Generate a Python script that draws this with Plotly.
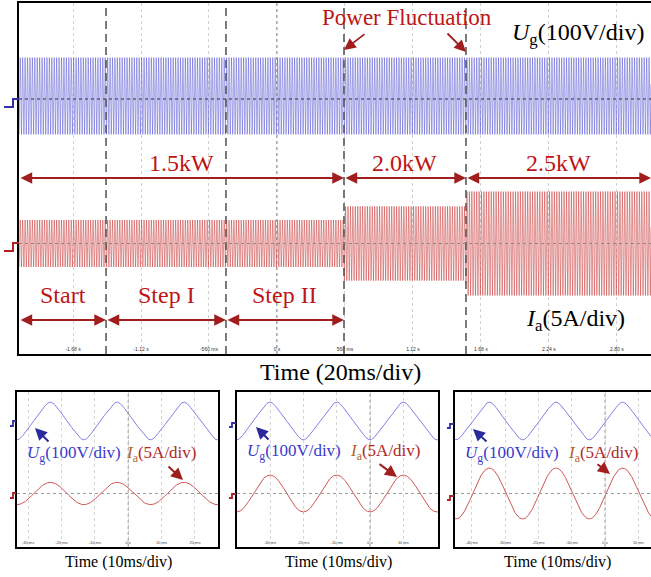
import numpy as np
import plotly.graph_objects as go

W, H = 651, 577


def px(x):
    return x / W


def py(y):
    return 1 - y / H


# ---------------- data ----------------
F_GRID = 50.0                       # Hz
UG_PEAK = 311.0                     # V
MAIN_T_RANGE = [-2.125, 3.081]      # s
EVENT_T = [-1.408, -0.420, 0.552, 1.557]      # s (dashed markers)
IA_EDGES = [-2.125, 0.552, 1.557, 3.081]      # s
IA_PEAKS = [9.5, 15.0, 21.0]                  # A
MAIN_TICKS = [-1.68, -1.12, -0.56, 0.0, 0.56, 1.12, 1.68, 2.24, 2.80]
MAIN_TICKTEXT = ['-1.68 s', '-1.12 s', '-560 ms', '0 s', '560 ms',
                 '1.12 s', '1.68 s', '2.24 s', '2.80 s']
POWER_LABELS = ['1.5kW', '2.0kW', '2.5kW']
POWER_EDGES = [-2.125, 0.552, 1.557, 3.081]
STAGE_LABELS = ['Start', 'Step I', 'Step II']
STAGE_EDGES = [-2.125, -1.408, -0.420, 0.552]

ZOOM_RANGES = [[-33.3, 26.9], [-39.9, 20.4], [-45.0, 13.8]]   # ms
ZOOM_TICKS = [[-30, -20, -10, 0, 10, 20],
              [-40, -30, -20, -10, 0, 10],
              [-40, -30, -20, -10, 0, 10]]
ZOOM_TICKTEXT = [['-30 ms', '-20 ms', '-10 ms', '0 s', '10 ms', '20 ms'],
                 ['-40 ms', '-30 ms', '-20 ms', '-10 ms', '0 s', '10 ms'],
                 ['-40 ms', '-30 ms', '-20 ms', '-10 ms', '0 s', '10 ms']]
ZOOM_UG_PEAK_T = [-3.3, 10.0, 5.3]   # ms, time of a voltage crest
ZOOM_IA_PEAKS = [9.2, 15.2, 21.0]    # A
UG_HARMONICS = [1.0, 0.065, 0.015]   # cosine weights of orders 1, 3, 5

# ---------------- styling ----------------
SERIF = 'Liberation Serif, Times New Roman, serif'
RED_TXT = '#c01414'
RED_ARR = '#a01e1e'
BLUE_TXT = '#3a3acc'
BLUE_ARR = '#2a2a9c'

fig = go.Figure()

# ---------------- main record ----------------
t = np.linspace(MAIN_T_RANGE[0], MAIN_T_RANGE[1], 5206 * 4)
w = 2 * np.pi * F_GRID
ug = UG_PEAK * np.sin(w * t)
seg = np.clip(np.searchsorted(IA_EDGES, t, side='right') - 1, 0, len(IA_PEAKS) - 1)
ia = np.array(IA_PEAKS)[seg] * np.sin(w * t)

fig.add_trace(go.Scatter(x=t, y=ug, mode='lines', xaxis='x', yaxis='y',
                         line=dict(color='rgba(80,80,210,0.5)', width=1.0),
                         hoverinfo='skip', showlegend=False))
fig.add_trace(go.Scatter(x=t, y=ia, mode='lines', xaxis='x', yaxis='y2',
                         line=dict(color='rgba(200,50,50,0.5)', width=1.0),
                         hoverinfo='skip', showlegend=False))

# ---------------- zoomed windows ----------------
orders = [1, 3, 5]
for k in range(3):
    tms = np.linspace(ZOOM_RANGES[k][0], ZOOM_RANGES[k][1], 800)
    th = 2 * np.pi * F_GRID * (tms - ZOOM_UG_PEAK_T[k]) / 1000.0
    shape = sum(h * np.cos(o * th) for h, o in zip(UG_HARMONICS, orders)) / sum(UG_HARMONICS)
    u = UG_PEAK * shape
    i = ZOOM_IA_PEAKS[k] * np.cos(th)
    xa = 'x%d' % (k + 2)
    yu = 'y%d' % (2 * k + 3)
    yi = 'y%d' % (2 * k + 4)
    fig.add_trace(go.Scatter(x=tms, y=u, mode='lines', xaxis=xa, yaxis=yu,
                             line=dict(color='#8080e6', width=1),
                             hoverinfo='skip', showlegend=False))
    fig.add_trace(go.Scatter(x=tms, y=i, mode='lines', xaxis=xa, yaxis=yi,
                             line=dict(color='#d05656', width=1),
                             hoverinfo='skip', showlegend=False))

# ---------------- axes ----------------
layout = dict(
    width=W, height=H, margin=dict(l=0, r=0, t=0, b=0),
    paper_bgcolor='white', plot_bgcolor='white', showlegend=False,
    font=dict(family=SERIF, color='black'),
)

main_xdom = [px(19), 1.0]
main_ydom = [py(354), py(3)]
UG_C = 96.0   # px of Ug trace centre
layout['xaxis'] = dict(domain=main_xdom, range=MAIN_T_RANGE, anchor='y',
                       showline=True, linecolor='black', linewidth=1.5, mirror=True,
                       ticks='', tickvals=MAIN_TICKS, ticktext=MAIN_TICKTEXT,
                       ticklabelposition='inside',
                       tickfont=dict(family='Liberation Sans', size=5, color='#333'),
                       showgrid=True, gridcolor='#d0d0d0', griddash='dot', gridwidth=1,
                       zeroline=False, fixedrange=True)
layout['yaxis'] = dict(domain=main_ydom, range=[-(354 - UG_C) * 8.1, (UG_C - 3) * 8.1],
                       anchor='x', showline=True, linecolor='black', linewidth=1.5,
                       ticks='', showticklabels=False, showgrid=False, zeroline=False)
layout['yaxis2'] = dict(overlaying='y', range=[-(354 - 243.5) * 0.404, (243.5 - 3) * 0.404],
                        anchor='x', visible=False)

zoom_xdoms = [[px(17), px(218)], [px(237), px(438)], [px(455), 1.0]]
zoom_ydom = [py(547), py(392)]
for k in range(3):
    xa = 'xaxis%d' % (k + 2)
    yu = 'yaxis%d' % (2 * k + 3)
    yi = 'yaxis%d' % (2 * k + 4)
    layout[xa] = dict(domain=zoom_xdoms[k], range=ZOOM_RANGES[k], anchor='y%d' % (2 * k + 3),
                      showline=True, linecolor='black', linewidth=2, mirror=True,
                      ticks='', tickvals=ZOOM_TICKS[k], ticktext=ZOOM_TICKTEXT[k],
                      ticklabelposition='inside',
                      tickfont=dict(family='Liberation Sans', size=4, color='#444'),
                      showgrid=True, gridcolor='#d6d6d6', griddash='dot', gridwidth=1,
                      zeroline=False)
    layout[yu] = dict(domain=zoom_ydom, range=[-(547 - 421) * 16.5, (421 - 392) * 16.5],
                      anchor='x%d' % (k + 2), showline=True, linecolor='black', linewidth=2,
                      mirror=(k < 2), ticks='', showticklabels=False,
                      showgrid=False, zeroline=False)
    layout[yi] = dict(overlaying='y%d' % (2 * k + 3),
                      range=[-(547 - 493.5) * 0.825, (493.5 - 392) * 0.825],
                      anchor='x%d' % (k + 2), visible=False)

fig.update_layout(**layout)

# ---------------- shapes ----------------
shapes = []
for te in EVENT_T:
    shapes.append(dict(type='line', xref='x', yref='y domain', x0=te, x1=te, y0=0, y1=1,
                       line=dict(color='#505050', width=1.5, dash='8px,5px')))
shapes.append(dict(type='line', xref='x domain', yref='paper', x0=0, x1=1,
                   y0=py(99), y1=py(99),
                   line=dict(color='#303030', width=1, dash='dot')))
shapes.append(dict(type='line', xref='x domain', yref='y2', x0=0, x1=1, y0=0, y1=0,
                   line=dict(color='#8a8a8a', width=1, dash='dot')))
shapes.append(dict(type='line', xref='x', yref='y domain', x0=0, x1=0, y0=0, y1=1,
                   line=dict(color='#8a8a8a', width=1, dash='dot')))
for k in range(3):
    xa = 'x%d' % (k + 2)
    yi = 'y%d' % (2 * k + 4)
    yu = 'y%d' % (2 * k + 3)
    shapes.append(dict(type='line', xref=xa + ' domain', yref=yi, x0=0, x1=1, y0=0, y1=0,
                       line=dict(color='#9a9a9a', width=1, dash='dot')))
    shapes.append(dict(type='line', xref=xa, yref=yu + ' domain', x0=0, x1=0, y0=0, y1=1,
                       line=dict(color='#9a9a9a', width=1, dash='dot')))


def step_marker(x0, x1, xm, ylo, yhi, color, width):
    path = 'M %f %f L %f %f L %f %f L %f %f' % (px(x0), py(ylo), px(xm), py(ylo),
                                                px(xm), py(yhi), px(x1), py(yhi))
    return dict(type='path', xref='paper', yref='paper', path=path,
                line=dict(color=color, width=width))


shapes.append(step_marker(4, 19, 13, 107, 99, '#3030a8', 2))
shapes.append(step_marker(4, 19, 13, 251, 243, '#b02020', 2))
marker_x = [(10, 16, 13), (229, 236, 232), (447, 454, 450)]
marker_y = [(426, 421, 498, 493), (427, 423, 498, 494), (428, 424, 500, 496)]
for (a, b, m), (bl, bh, rl, rh) in zip(marker_x, marker_y):
    shapes.append(step_marker(a, b, m, bl, bh, '#3030a8', 1.8))
    shapes.append(step_marker(a, b, m, rl, rh, '#b02020', 1.8))

fig.update_layout(shapes=shapes)

# ---------------- annotations ----------------
ann = []


def text(x, y, s, size, color='black', xref='paper'):
    ann.append(dict(x=x, y=y, xref=xref, yref='paper', text=s, showarrow=False,
                    font=dict(family=SERIF, size=size, color=color),
                    xanchor='center', yanchor='middle'))


def double_arrow(xa_, xb_, ypx):
    ann.append(dict(x=xb_, y=py(ypx), xref='x', yref='paper', ax=xa_, ay=0,
                    axref='x', ayref='pixel', text='', showarrow=True,
                    arrowside='end+start', arrowhead=2, startarrowhead=2,
                    arrowsize=1.3, startarrowsize=1.3, arrowwidth=1.8,
                    arrowcolor=RED_ARR, standoff=0, startstandoff=0))


for lab, a, b in zip(POWER_LABELS, POWER_EDGES[:-1], POWER_EDGES[1:]):
    double_arrow(a, b, 178)
    text((a + b) / 2, py(163), lab, 24, RED_TXT, xref='x')
for lab, a, b in zip(STAGE_LABELS, STAGE_EDGES[:-1], STAGE_EDGES[1:]):
    double_arrow(a, b, 320)
    text((a + b) / 2, py(295), lab, 24, RED_TXT, xref='x')

text(px(407), py(18), 'Power Fluctuation', 23, RED_TXT)
for te, yh, dx, dy in [(EVENT_T[2], 50, 22, -17), (EVENT_T[3], 52, -20, -20)]:
    ann.append(dict(x=te, y=py(yh), xref='x', yref='paper', ax=dx, ay=dy,
                    axref='pixel', ayref='pixel', text='', showarrow=True,
                    arrowhead=2, arrowsize=1.3, arrowwidth=1.8, arrowcolor=RED_ARR,
                    standoff=0))

text(px(578), py(34), '<i>U</i><sub>g</sub>(100V/div)', 24)
text(px(575), py(320), '<i>I</i><sub>a</sub>(5A/div)', 24)
text(px(340), py(372), 'Time (20ms/div)', 24)

zoom_title_x = [118, 338, 557]
ug_lab = [(74, 454), (294, 452), (512, 454)]
ia_lab = [(161, 454), (386, 452), (603, 454)]
blue_arr = [((35, 428), (15, 15)), ((256, 427), (14, 14)), ((473, 429), (15, 14))]
red_arr = [((183, 480), (-16, -15)), ((397, 477), (-19, -14)), ((610, 474), (-14, -11))]
for k in range(3):
    text(px(zoom_title_x[k]), py(562), 'Time (10ms/div)', 16)
    text(px(ug_lab[k][0]), py(ug_lab[k][1]), '<i>U</i><sub>g</sub>(100V/div)', 17, BLUE_TXT)
    text(px(ia_lab[k][0]), py(ia_lab[k][1]),
         '<span style="color:#b4622a"><i>I</i><sub>a</sub></span>(5A/div)', 17, '#b02626')
    for (hx, hy), (dx, dy), col in [(blue_arr[k][0], blue_arr[k][1], BLUE_ARR),
                                    (red_arr[k][0], red_arr[k][1], RED_ARR)]:
        ann.append(dict(x=px(hx), y=py(hy), xref='paper', yref='paper', ax=dx, ay=dy,
                        axref='pixel', ayref='pixel', text='', showarrow=True,
                        arrowhead=2, arrowsize=1.2, arrowwidth=2, arrowcolor=col,
                        standoff=0))

fig.update_layout(annotations=ann)
fig.write_html('out.html')
